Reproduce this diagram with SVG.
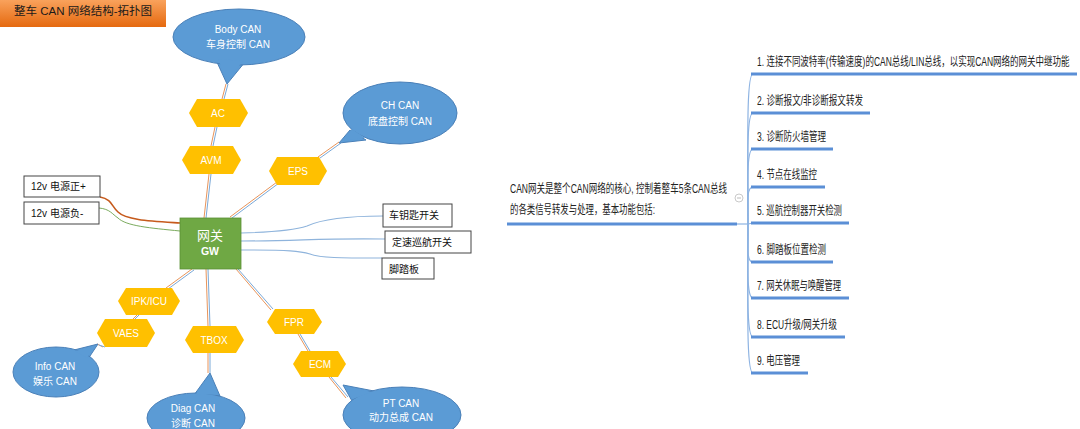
<svg xmlns="http://www.w3.org/2000/svg" width="1080" height="429" viewBox="0 0 1080 429">
<defs>
<linearGradient id="tg" x1="0" y1="0" x2="0" y2="1">
<stop offset="0" stop-color="#f9a25c"/>
<stop offset="1" stop-color="#e5690f"/>
</linearGradient>
<style>
text{font-family:"Liberation Sans","Noto Sans CJK SC",sans-serif}
.hex{fill:#ffc000}
.ht{fill:#fff;font-size:10px;text-anchor:middle}
.cl{fill:#5b9bd5;stroke:#4a80b8;stroke-width:1}
.clf{fill:#5b9bd5}
.ct{fill:#fff;font-size:10px;text-anchor:middle}
.box{fill:#fff;stroke:#444;stroke-width:1}
.bt{fill:#111;font-size:10px}
.co{fill:none;stroke:#e8945a;stroke-width:1}
.cb{fill:none;stroke:#7aa9d8;stroke-width:1}
.bl{fill:none;stroke:#8fb4dc;stroke-width:1.1}
.ul{fill:none;stroke:#5b8fd6;stroke-width:3}
.br{fill:none;stroke:#8db3e2;stroke-width:1.2}
.it{fill:#222;font-size:12px}
</style>
</defs>
<rect width="1080" height="429" fill="#fff"/>

<g id="title">
<rect x="0" y="0" width="166" height="27" fill="url(#tg)"/>
<text x="14" y="15" font-size="11.5" fill="#1a1a1a">整车 CAN 网络结构-拓扑图</text>
</g>

<g id="connectors">
<path class="co" d="M222,99 L226,84"/><path class="cb" d="M224,99 L228,84"/>
<path class="co" d="M211,146 L215,127"/><path class="cb" d="M213,146 L217,127"/>
<path class="co" d="M204,218 L209,174"/><path class="cb" d="M206,218 L211,174"/>
<path class="co" d="M230,217 L277,182"/><path class="cb" d="M232,218 L279,183"/>
<path class="co" d="M318,157 L339,142"/><path class="cb" d="M320,158 L341,143"/>
<path class="co" d="M192,269 L166,288"/><path class="cb" d="M194,270 L168,289"/>
<path class="co" d="M137,315 L133,319"/><path class="cb" d="M139,315 L135,319"/>
<path class="co" d="M103,347 L97,344"/><path class="cb" d="M105,347 L99,345"/>
<path class="co" d="M206,269 L208,326"/><path class="cb" d="M208,269 L210,326"/>
<path class="co" d="M208,353 L208,373"/><path class="cb" d="M210,353 L210,373"/>
<path class="co" d="M236,269 L271,310"/><path class="cb" d="M238,269 L273,309"/>
<path class="co" d="M298,334 L308,351"/><path class="cb" d="M300,334 L310,351"/>
<path class="co" d="M329,377 L346,398"/><path class="cb" d="M331,377 L348,397"/>
<path fill="none" stroke="#c65a1c" stroke-width="1.6" d="M100,197 C112,199 112,207 118,212 C126,220 150,221 180,223"/>
<path fill="none" stroke="#7bab5e" stroke-width="1" d="M99,208 C110,209 112,214 118,218 C126,226 150,228 180,231"/>
<path class="bl" d="M241,233 C280,232 298,229 307,226 C320,220 340,216 383,216"/>
<path class="bl" d="M241,241 C300,241 320,238 385,239"/>
<path class="bl" d="M241,250 C290,250 300,251 310,254 C320,258 340,258 382,258"/>
<path class="ul" d="M507,224 L737,224"/>
<path class="br" d="M737,224 L748,224"/>
<path class="br" d="M748,224 C748,150 746,74 753,74"/>
<path class="br" d="M748,224 C748,170 746,113 753,113"/>
<path class="br" d="M748,224 C748,190 746,149 753,149"/>
<path class="br" d="M748,224 C748,205 746,187 753,187"/>
<path class="br" d="M748,224 L753,223"/>
<path class="br" d="M748,224 C748,245 746,262 753,262"/>
<path class="br" d="M748,224 C748,260 746,298 753,298"/>
<path class="br" d="M748,224 C748,280 746,337 753,337"/>
<path class="br" d="M748,224 C748,300 746,373 753,373"/>
<circle cx="739" cy="198" r="4" fill="#fff" stroke="#bbb" stroke-width="0.8"/>
<path d="M737,198 L741,198" stroke="#aaa" stroke-width="0.8"/>
</g>

<g id="body-can">
<polygon class="cl" points="216,60 227,84 245,62"/>
<ellipse class="cl" cx="239" cy="37" rx="66" ry="28"/>
<polygon class="clf" points="218,59 227,81 243,61"/>
<text class="ct" x="238" y="33">Body CAN</text>
<text class="ct" x="238" y="48">车身控制 CAN</text>
</g>
<g id="ch-can">
<polygon class="cl" points="350,130 339,143 366,140"/>
<ellipse class="cl" cx="400" cy="113" rx="57" ry="31"/>
<polygon class="clf" points="352,129 342,141 365,138"/>
<text class="ct" x="400" y="109">CH CAN</text>
<text class="ct" x="400" y="125">底盘控制 CAN</text>
</g>
<g id="info-can">
<polygon class="cl" points="74,350 98,344 88,359"/>
<ellipse class="cl" cx="56" cy="372" rx="43" ry="25"/>
<polygon class="clf" points="75,351 95,346 87,358"/>
<text class="ct" x="55" y="370">Info CAN</text>
<text class="ct" x="55" y="385">娱乐 CAN</text>
</g>
<g id="diag-can">
<polygon class="cl" points="194,395 210,373 220,396"/>
<ellipse class="cl" cx="196" cy="418" rx="49" ry="25"/>
<polygon class="clf" points="196,394 209,376 218,395"/>
<text class="ct" x="193" y="412">Diag CAN</text>
<text class="ct" x="193" y="427">诊断 CAN</text>
</g>
<g id="pt-can">
<polygon class="cl" points="352,401 343,385 374,391"/>
<ellipse class="cl" cx="402" cy="415" rx="59" ry="28"/>
<polygon class="clf" points="353,399 346,388 372,392"/>
<text class="ct" x="401" y="407">PT CAN</text>
<text class="ct" x="401" y="421">动力总成 CAN</text>
</g>

<g id="ac"><polygon class="hex" points="197,99 240,99 248,113 240,127 197,127 189,113"/><text class="ht" x="218" y="117">AC</text></g>
<g id="avm"><polygon class="hex" points="190,146 233,146 241,160 233,174 190,174 182,160"/><text class="ht" x="211" y="164">AVM</text></g>
<g id="eps"><polygon class="hex" points="277,157 319,157 327,171 319,185 277,185 269,171"/><text class="ht" x="298" y="175">EPS</text></g>
<g id="ipk"><polygon class="hex" points="126,288 172,288 180,301 172,315 126,315 118,301"/><text class="ht" x="149" y="305">IPK/ICU</text></g>
<g id="vaes"><polygon class="hex" points="105,319 147,319 155,333 147,347 105,347 97,333"/><text class="ht" x="126" y="337">VAES</text></g>
<g id="tbox"><polygon class="hex" points="193,326 236,326 244,340 236,353 193,353 185,340"/><text class="ht" x="214" y="344">TBOX</text></g>
<g id="fpr"><polygon class="hex" points="275,309 314,309 322,322 314,334 275,334 267,322"/><text class="ht" x="294" y="326">FPR</text></g>
<g id="ecm"><polygon class="hex" points="301,351 338,351 346,364 338,377 301,377 293,364"/><text class="ht" x="320" y="368">ECM</text></g>

<g id="gw">
<rect x="180" y="218" width="61" height="51" fill="#6fa844" stroke="#5a8f36" stroke-width="0.8"/>
<text x="210" y="240" font-size="13" fill="#fff" text-anchor="middle">网关</text>
<text x="210" y="255" font-size="10.5" font-weight="bold" fill="#fff" text-anchor="middle">GW</text>
</g>

<g id="pwr-pos"><rect class="box" x="24" y="176" width="76" height="21"/><text class="bt" x="31" y="190">12v 电源正+</text></g>
<g id="pwr-neg"><rect class="box" x="24" y="202" width="75" height="22"/><text class="bt" x="31" y="217">12v 电源负-</text></g>
<g id="key"><rect class="box" x="383" y="204" width="69" height="23"/><text class="bt" x="389" y="219">车钥匙开关</text></g>
<g id="cruise"><rect class="box" x="385" y="231" width="86" height="22"/><text class="bt" x="392" y="246">定速巡航开关</text></g>
<g id="pedal"><rect class="box" x="382" y="258" width="52" height="21"/><text class="bt" x="389" y="273">脚踏板</text></g>

<g id="summary">
<text class="it" x="510" y="193" textLength="217" lengthAdjust="spacingAndGlyphs">CAN网关是整个CAN网络的核心, 控制着整车5条CAN总线</text>
<text class="it" x="510" y="214" textLength="145" lengthAdjust="spacingAndGlyphs">的各类信号转发与处理，基本功能包括:</text>
</g>

<g id="item1"><path class="ul" d="M751,74 L1077,74"/><text class="it" transform="translate(757,66) scale(0.72,1)" x="0" y="0" textLength="434" lengthAdjust="spacingAndGlyphs">1. 连接不同波特率(传输速度)的CAN总线/LIN总线，以实现CAN网络的网关中继功能</text></g>
<g id="item2"><path class="ul" d="M751,113 L870,113"/><text class="it" x="757" y="105" textLength="106" lengthAdjust="spacingAndGlyphs">2. 诊断报文/非诊断报文转发</text></g>
<g id="item3"><path class="ul" d="M751,149 L833,149"/><text class="it" x="757" y="141" textLength="69" lengthAdjust="spacingAndGlyphs">3. 诊断防火墙管理</text></g>
<g id="item4"><path class="ul" d="M751,187 L825,187"/><text class="it" x="757" y="179" textLength="60" lengthAdjust="spacingAndGlyphs">4. 节点在线监控</text></g>
<g id="item5"><path class="ul" d="M751,223 L849,223"/><text class="it" x="757" y="215" textLength="85" lengthAdjust="spacingAndGlyphs">5. 巡航控制器开关检测</text></g>
<g id="item6"><path class="ul" d="M751,262 L833,262"/><text class="it" x="757" y="254" textLength="69" lengthAdjust="spacingAndGlyphs">6. 脚踏板位置检测</text></g>
<g id="item7"><path class="ul" d="M751,298 L849,298"/><text class="it" x="757" y="290" textLength="84" lengthAdjust="spacingAndGlyphs">7. 网关休眠与唤醒管理</text></g>
<g id="item8"><path class="ul" d="M751,337 L845,337"/><text class="it" x="757" y="329" textLength="80" lengthAdjust="spacingAndGlyphs">8. ECU升级/网关升级</text></g>
<g id="item9"><path class="ul" d="M751,373 L808,373"/><text class="it" x="757" y="365" textLength="43" lengthAdjust="spacingAndGlyphs">9. 电压管理</text></g>
</svg>
